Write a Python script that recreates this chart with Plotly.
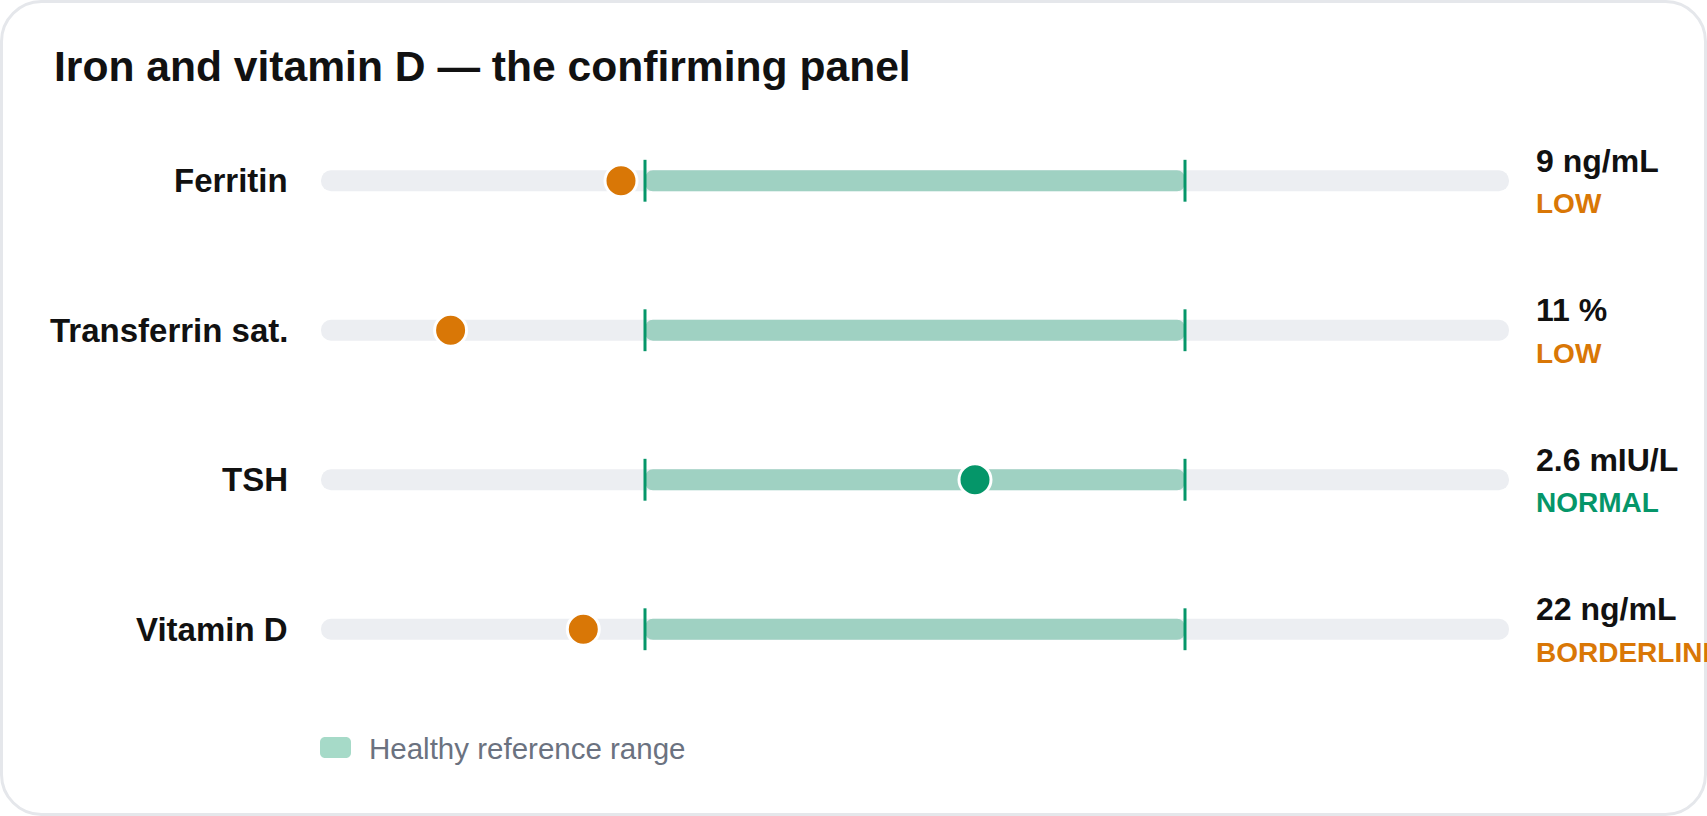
import plotly.graph_objects as go

# ---- data ----
tests = ["Ferritin", "Transferrin sat.", "TSH", "Vitamin D"]
values = [9, 11, 2.6, 22]
units = ["ng/mL", "%", "mIU/L", "ng/mL"]
ref_low = [15, 20, 0.4, 30]
ref_high = [150, 45, 4.0, 100]
status = ["LOW", "LOW", "NORMAL", "BORDERLINE"]

# ---- style ----
W, H = 1707, 816
L, R, T, B = 321, 198, 106, 112
PW, PH = W - L - R, H - T - B
FONT = "Liberation Sans, Arial, Helvetica, sans-serif"
ORANGE = "#d97706"
GREEN = "#059669"
TRACK = "#eceef2"
RANGE = "#9fd1c2"
PAD = 0.6          # track extends 60% of range width on each side
BAR_W = 0.14       # bar thickness in row units
TICK_H = 0.14

status_color = {"LOW": ORANGE, "BORDERLINE": ORANGE, "NORMAL": GREEN, "HIGH": ORANGE}

fig = go.Figure()
layout_axes = {}
for i, name in enumerate(tests):
    lo, hi = ref_low[i], ref_high[i]
    w = hi - lo
    xmin, xmax = lo - PAD * w, hi + PAD * w
    xa = "x" if i == 0 else f"x{i+1}"
    key = "xaxis" if i == 0 else f"xaxis{i+1}"
    ax = dict(range=[xmin, xmax], visible=False, fixedrange=True, domain=[0, 1], anchor="y")
    if i > 0:
        ax["overlaying"] = "x"
    layout_axes[key] = ax

    # background track
    fig.add_trace(go.Bar(
        y=[i], x=[xmax - xmin], base=[xmin], orientation="h", width=BAR_W,
        marker=dict(color=TRACK, cornerradius=11, line=dict(width=0)),
        xaxis=xa, yaxis="y", showlegend=False, hoverinfo="skip"))
    # healthy range
    fig.add_trace(go.Bar(
        y=[i], x=[hi - lo], base=[lo], orientation="h", width=BAR_W,
        marker=dict(color=RANGE, cornerradius=8, line=dict(width=0)),
        xaxis=xa, yaxis="y", showlegend=False, hoverinfo="skip"))
    # range end ticks
    fig.add_trace(go.Scatter(
        x=[lo, lo, None, hi, hi],
        y=[i - TICK_H, i + TICK_H, None, i - TICK_H, i + TICK_H],
        mode="lines", line=dict(color=GREEN, width=3),
        xaxis=xa, yaxis="y", showlegend=False, hoverinfo="skip", cliponaxis=False))
    # measured value
    fig.add_trace(go.Scatter(
        x=[values[i]], y=[i], mode="markers",
        marker=dict(size=32, color=status_color[status[i]], line=dict(color="white", width=3)),
        xaxis=xa, yaxis="y", showlegend=False, cliponaxis=False,
        hovertemplate=f"{name}: {values[i]:g} {units[i]}<extra></extra>"))

annotations = []
for i, name in enumerate(tests):
    annotations.append(dict(
        x=0, xref="paper", y=i, yref="y", text=f"<b>{name}</b>", showarrow=False,
        xanchor="right", yanchor="middle", xshift=-31,
        font=dict(family=FONT, size=33, color="#111111")))
    annotations.append(dict(
        x=1, xref="paper", y=i, yref="y", text=f"<b>{values[i]:g} {units[i]}</b>", showarrow=False,
        xanchor="left", yanchor="middle", xshift=25, yshift=20,
        font=dict(family=FONT, size=32, color="#111111")))
    annotations.append(dict(
        x=1, xref="paper", y=i, yref="y", text=f"<b>{status[i]}</b>", showarrow=False,
        xanchor="left", yanchor="middle", xshift=25, yshift=-23,
        font=dict(family=FONT, size=28, color=status_color[status[i]])))


def to_paper(px, py):
    return (px - L) / PW, (H - B - py) / PH


def rounded_path(x0, y0, x1, y1, r):
    k = 0.5523 * r
    pts = [
        ("M", [(x0 + r, y0)]),
        ("L", [(x1 - r, y0)]),
        ("C", [(x1 - r + k, y0), (x1, y0 + r - k), (x1, y0 + r)]),
        ("L", [(x1, y1 - r)]),
        ("C", [(x1, y1 - r + k), (x1 - r + k, y1), (x1 - r, y1)]),
        ("L", [(x0 + r, y1)]),
        ("C", [(x0 + r - k, y1), (x0, y1 - r + k), (x0, y1 - r)]),
        ("L", [(x0, y0 + r)]),
        ("C", [(x0, y0 + r - k), (x0 + r - k, y0), (x0 + r, y0)]),
    ]
    s = ""
    for cmd, ps in pts:
        s += cmd + " " + " ".join("%.5f,%.5f" % to_paper(a, b) for a, b in ps) + " "
    return s + "Z"


shapes = [
    dict(type="path", xref="paper", yref="paper", path=rounded_path(1.5, 1.5, W - 1.5, H - 1.5, 40),
         line=dict(color="#e5e7eb", width=3), fillcolor="rgba(0,0,0,0)", layer="above"),
    dict(type="path", xref="paper", yref="paper", path=rounded_path(320, 737, 351, 758, 5),
         line=dict(width=0), fillcolor="#a6dac8", layer="above"),
]

lx, ly = to_paper(367, 748)
annotations.append(dict(
    x=lx, xref="paper", y=ly, yref="paper", text="Healthy reference range", showarrow=False,
    xanchor="left", yanchor="middle",
    font=dict(family=FONT, size=29.5, color="#6b7280")))

fig.update_layout(
    width=W, height=H, autosize=False,
    margin=dict(l=L, r=R, t=T, b=B),
    paper_bgcolor="white", plot_bgcolor="white",
    barmode="overlay",
    showlegend=False,
    title=dict(text="<b>Iron and vitamin D — the confirming panel</b>",
               x=54 / W, xref="container", xanchor="left",
               y=1 - 66.5 / H, yref="container", yanchor="middle",
               font=dict(family=FONT, size=42.6, color="#111111")),
    yaxis=dict(range=[3.5, -0.5], visible=False, fixedrange=True, anchor="x"),
    annotations=annotations,
    shapes=shapes,
    **layout_axes,
)

fig.write_html("out.html")
